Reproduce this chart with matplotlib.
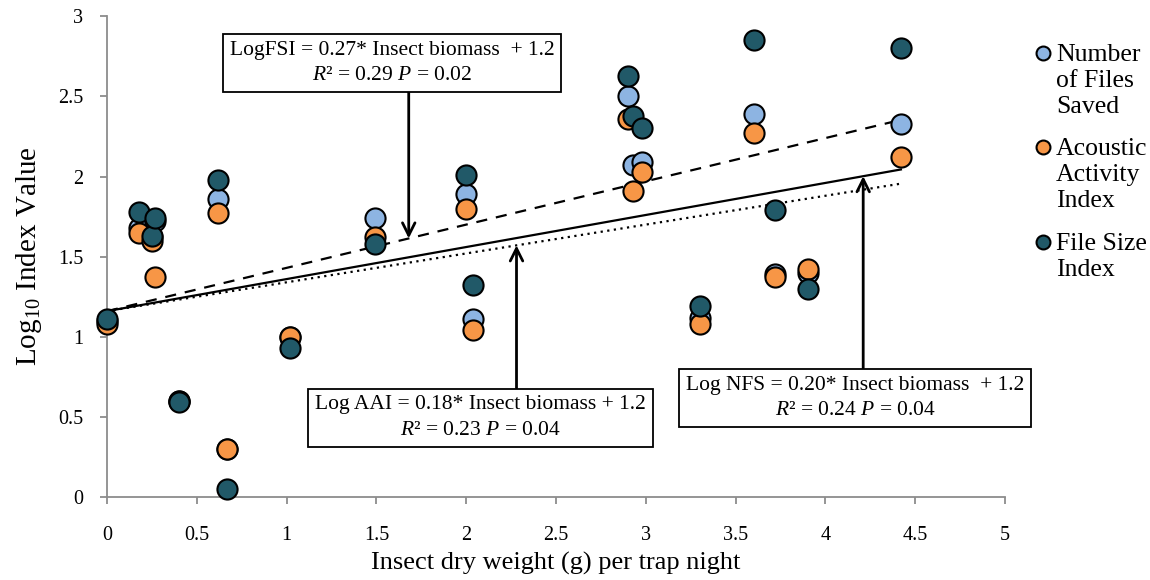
import matplotlib
matplotlib.use("Agg")
import matplotlib.pyplot as plt
import numpy as np

plt.rcParams['font.family'] = ['Liberation Serif', 'DejaVu Serif']
plt.rcParams['mathtext.fontset'] = 'custom'
plt.rcParams['mathtext.rm'] = 'Liberation Serif'
plt.rcParams['mathtext.it'] = 'Liberation Serif:italic'

# Insect dry weight (g) per trap night for each site
biomass = [0.00, 0.18, 0.25, 0.27, 0.40, 0.62, 0.67, 1.02, 1.49, 2.00, 2.04,
           2.90, 2.93, 2.98, 3.30, 3.60, 3.72, 3.90, 4.42]

# log10 index values per site
nfs = [1.10, 1.68, 1.62, 1.72, 0.60, 1.86, 0.30, 1.00, 1.74, 1.89, 1.11,
       2.50, 2.07, 2.09, 1.12, 2.39, 1.39, 1.40, 2.33]
aai = [1.08, 1.65, 1.60, 1.37, 0.60, 1.77, 0.30, 1.00, 1.62, 1.80, 1.04,
       2.36, 1.91, 2.03, 1.08, 2.27, 1.37, 1.42, 2.12]
fsi = [1.11, 1.78, 1.63, 1.74, 0.59, 1.98, 0.05, 0.93, 1.58, 2.01, 1.32,
       2.63, 2.38, 2.30, 1.19, 2.85, 1.79, 1.30, 2.80]

series_names = ["Number\nof Files\nSaved", "Acoustic\nActivity\nIndex", "File Size\nIndex"]
series_colors = ["#8DB4E2", "#F79646", "#215968"]

# Linear trend lines (slope, intercept)
fit_nfs = (0.20, 1.16)
fit_aai = (0.18, 1.16)
fit_fsi = (0.27, 1.16)

stats_nfs = (0.24, 0.04)
stats_aai = (0.23, 0.04)
stats_fsi = (0.29, 0.02)

x_ticks = [0, 0.5, 1, 1.5, 2, 2.5, 3, 3.5, 4, 4.5, 5]
y_ticks = [0, 0.5, 1, 1.5, 2, 2.5, 3]

fig = plt.figure(figsize=(11.5, 5.8), dpi=100)
ax = fig.add_axes([0.093, 0.143, 0.781, 0.829])
ax.set_xlim(0, 5)
ax.set_ylim(0, 3)

for vals, col in zip([nfs, aai, fsi], series_colors):
    ax.scatter(biomass, vals, s=210, c=col, edgecolors='black', linewidths=1.5,
               zorder=3, clip_on=False)

xl = np.array([min(biomass), max(biomass)])
ax.plot(xl, fit_fsi[0] * xl + fit_fsi[1], color='black', lw=1.6, ls=(0, (5, 4)), zorder=2)
ax.plot(xl, fit_nfs[0] * xl + fit_nfs[1], color='black', lw=1.6, ls='-', zorder=2)
ax.plot(xl, fit_aai[0] * xl + fit_aai[1], color='black', lw=1.6, ls=(0, (1, 2)), zorder=2)

for sp in ['top', 'right']:
    ax.spines[sp].set_visible(False)
for sp in ['left', 'bottom']:
    ax.spines[sp].set_color('#8c8c8c')
    ax.spines[sp].set_linewidth(1.3)
ax.tick_params(axis='both', colors='#8c8c8c', direction='out', length=5, width=1.3,
               labelcolor='black', labelsize=14.5)
ax.set_xticks(x_ticks)
ax.set_yticks(y_ticks)
ax.set_xticklabels([f"{v:g}" for v in x_ticks])
ax.set_yticklabels([f"{v:g}" for v in y_ticks])
ax.tick_params(axis='x', pad=16)
ax.tick_params(axis='y', pad=12)

ax.set_xlabel("Insect dry weight (g) per trap night", fontsize=19, labelpad=5)
ax.set_ylabel("Log$_{10}$ Index Value", fontsize=21, labelpad=10)


def equation_box(label, fit, stats, box_xy, arrow_x, box_edge_y, gap="  "):
    slope, icpt = fit
    r2, p = stats
    txt = (f"{label} = {slope:.2f}* Insect biomass{gap}+ {icpt:.1f}\n"
           f"$\\it{{R}}$² = {r2:.2f} $\\it{{P}}$ = {p:.2f}")
    ax.text(box_xy[0], box_xy[1], txt, ha='center', va='center', fontsize=15.5,
            linespacing=1.45, zorder=5,
            bbox=dict(boxstyle='square,pad=0.32', fc='white', ec='black', lw=1.3))
    tip_y = slope * arrow_x + icpt
    ax.annotate("", xy=(arrow_x, tip_y), xytext=(arrow_x, box_edge_y),
                arrowprops=dict(arrowstyle='->,head_length=0.9,head_width=0.45',
                                lw=2.0, color='black', shrinkA=0, shrinkB=0),
                zorder=4)


equation_box("LogFSI", fit_fsi, stats_fsi, (1.587, 2.707), 1.68, 2.527)
equation_box("Log AAI", fit_aai, stats_aai, (2.08, 0.496), 2.28, 0.68, gap=" ")
equation_box("Log NFS", fit_nfs, stats_nfs, (4.165, 0.62), 4.21, 0.805)

# Legend: marker beside the first line of each multi-line label
leg_y = [53, 147, 242]
for name, col, py in zip(series_names, series_colors, leg_y):
    fy = 1 - py / 580
    fig.add_artist(plt.Line2D([1043 / 1150], [fy], marker='o', markersize=10,
                              markerfacecolor=col, markeredgecolor='black',
                              markeredgewidth=1.5, transform=fig.transFigure))
    fig.text(1056 / 1150, fy + 9 / 580, name, ha='left', va='top', fontsize=18.5,
             linespacing=1.23)

fig.savefig("out.png", dpi=100)
